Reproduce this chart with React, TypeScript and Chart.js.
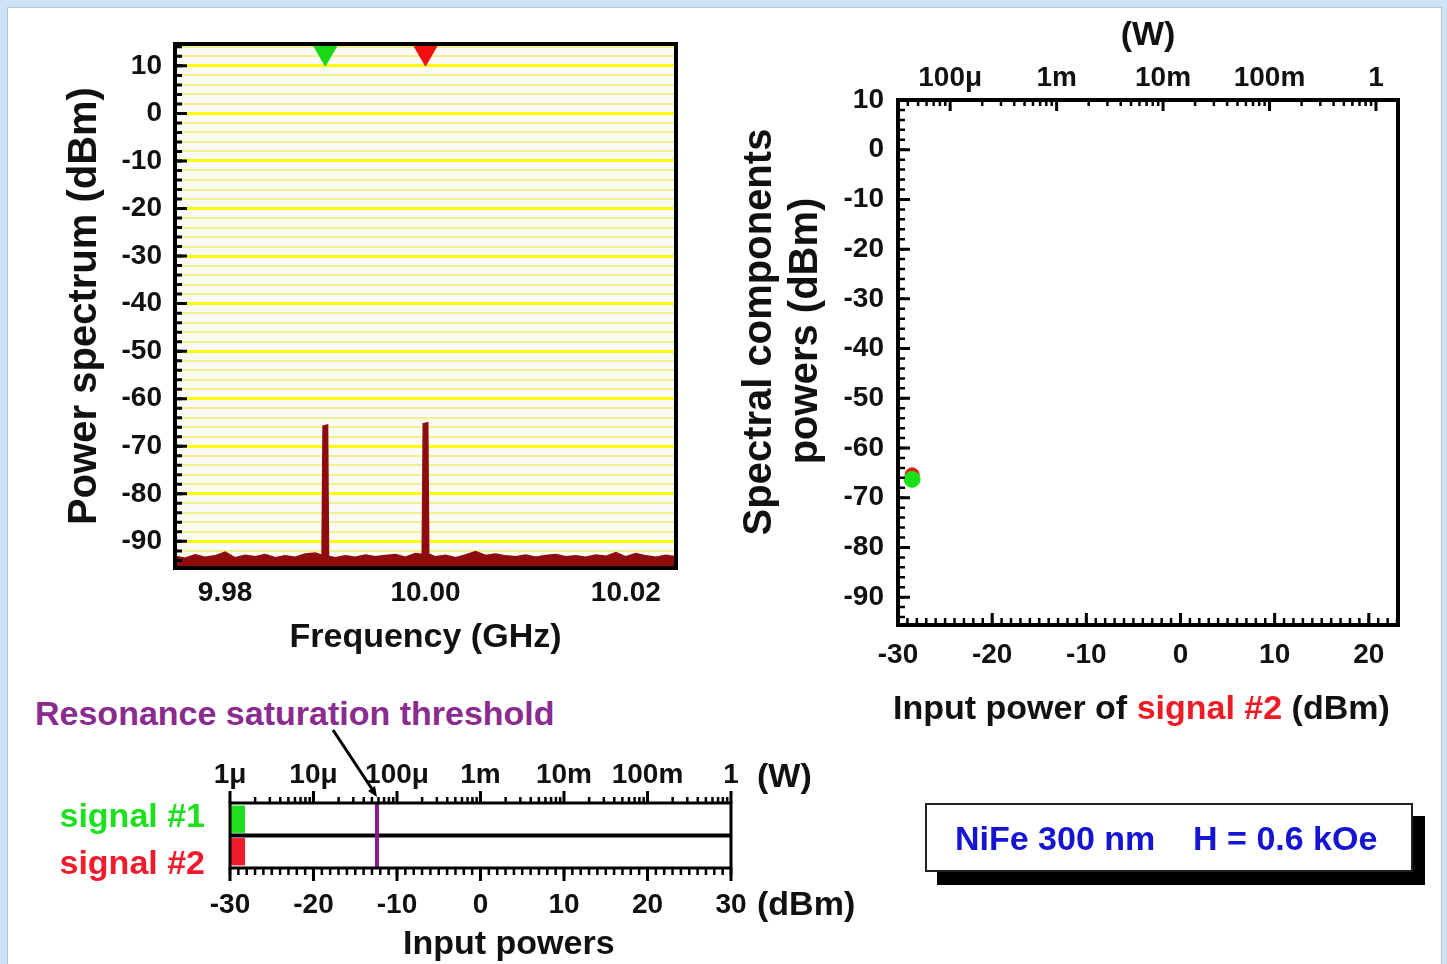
import React, { useEffect, useRef } from 'react';
import { Chart, registerables } from 'chart.js';

Chart.register(...registerables);

const FONT = "'Liberation Sans', Arial, Helvetica, sans-serif";

// ---------- Power spectrum (top-left) ----------
const spectrumFreqGHz = [
  9.975, 9.976, 9.977, 9.978, 9.979, 9.98, 9.981, 9.982, 9.983, 9.984, 9.985, 9.986, 9.987, 9.988, 9.989,
  9.9897, 9.9898, 9.9902, 9.9903,
  9.991, 9.992, 9.993, 9.994, 9.995, 9.996, 9.997, 9.998, 9.999,
  9.9997, 9.9998, 10.0002, 10.0003,
  10.001, 10.002, 10.003, 10.004, 10.005, 10.006, 10.007, 10.008, 10.009, 10.01, 10.011, 10.012, 10.013,
  10.014, 10.015, 10.016, 10.017, 10.018, 10.019, 10.02, 10.021, 10.022, 10.023, 10.024, 10.025,
];
const spectrumLevelDbm = [
  -93.2, -93.6, -92.9, -93.4, -93.1, -92.3, -93.5, -93.0, -93.3, -92.8, -93.5, -93.1, -93.4, -92.7, -92.5,
  -93.0, -65.8, -65.6, -93.2,
  -93.5, -93.1, -93.4, -92.9, -93.3, -93.0, -92.8, -93.4, -92.6,
  -92.8, -65.3, -65.1, -92.7,
  -93.3, -93.0, -93.5, -92.9, -92.2, -93.0, -92.7, -93.1, -93.3, -92.9, -93.4, -93.0, -92.8,
  -93.3, -93.1, -93.4, -92.9, -93.2, -92.4, -93.3, -92.6, -93.1, -93.4, -93.0, -93.3,
];
const markerFreqGHz = [9.99, 10.0];
const markerLevelDbm = [12.7, 12.7];
const markerColors = ['#18d818', '#f01010'];
const freqTickValues = [9.98, 10.0, 10.02];
const spectrumTickDbm = [10, 0, -10, -20, -30, -40, -50, -60, -70, -80, -90];

// ---------- Spectral components powers (top-right) ----------
const signal2InputDbm = [-28.5];
const component1PowerDbm = [-66.3];
const component2PowerDbm = [-65.4];
const inputPowerTickDbm = [-30, -20, -10, 0, 10, 20];
const componentTickDbm = [10, 0, -10, -20, -30, -40, -50, -60, -70, -80, -90];
const wattTickValues = [1e-4, 1e-3, 1e-2, 1e-1, 1];
const wattTickLabels = ['100μ', '1m', '10m', '100m', '1'];
const componentTitleLines = ['Spectral components', 'powers (dBm)'];

// ---------- Input powers (bottom-left) ----------
const signalNames = ['signal #1', 'signal #2'];
const signalColors = ['#1ee01e', '#f01c2c'];
const signalStartDbm = [-30, -30];
const signalPowerDbm = [-28.2, -28.2];
const saturationThresholdDbm = -12.4;
const inputTickDbm = [-30, -20, -10, 0, 10, 20, 30];
const inputWattTickValues = [1e-6, 1e-5, 1e-4, 1e-3, 1e-2, 1e-1, 1];
const inputWattTickLabels = ['1μ', '10μ', '100μ', '1m', '10m', '100m', '1'];

const tickFont = { family: FONT, size: 28, weight: 'bold' as const };
const titleFont = { family: FONT, size: 34, weight: 'bold' as const };
const vTitleFont = { family: FONT, size: 40, weight: 'bold' as const, lineHeight: 1.15 };

function range(start: number, end: number, step: number) {
  const out: number[] = [];
  for (let v = start; v <= end + 1e-9; v += step) out.push(Math.round(v * 1e6) / 1e6);
  return out;
}
function logValues(min: number, max: number, mults: number[]) {
  const out: number[] = [];
  for (let e = Math.floor(Math.log10(min)) - 1; e <= Math.ceil(Math.log10(max)); e++) {
    for (const m of mults) {
      const v = m * Math.pow(10, e);
      if (v >= min * 0.9999 && v <= max * 1.0001) out.push(v);
    }
  }
  return out;
}
function labelFor(values: number[], labels: string[]) {
  return (v: any) => {
    const n = Number(v);
    const i = values.findIndex((t) => Math.abs(t - n) <= Math.abs(t) * 1e-6 + 1e-9);
    return i >= 0 ? labels[i] : '';
  };
}
function fixSize(dim: 'width' | 'height', size: number) {
  return (s: any) => {
    s[dim] = size;
    s.paddingTop = 0;
    s.paddingBottom = 0;
    s.paddingLeft = 0;
    s.paddingRight = 0;
  };
}
function drawTickMarks(ctx: CanvasRenderingContext2D, chart: any, scale: any, values: number[], len: number,
  side: 'left' | 'top' | 'bottom', inward: boolean, lw: number) {
  const a = chart.chartArea;
  ctx.beginPath();
  for (const v of values) {
    const p = scale.getPixelForValue(v);
    if (side === 'left') {
      if (p < a.top - 1 || p > a.bottom + 1) continue;
      ctx.moveTo(a.left, p);
      ctx.lineTo(a.left + (inward ? len : -len), p);
    } else if (side === 'top') {
      if (p < a.left - 1 || p > a.right + 1) continue;
      ctx.moveTo(p, a.top);
      ctx.lineTo(p, a.top + (inward ? len : -len));
    } else {
      if (p < a.left - 1 || p > a.right + 1) continue;
      ctx.moveTo(p, a.bottom);
      ctx.lineTo(p, a.bottom + (inward ? -len : len));
    }
  }
  ctx.lineWidth = lw;
  ctx.strokeStyle = '#000';
  ctx.stroke();
}
function frame(ctx: CanvasRenderingContext2D, chart: any, lw: number) {
  const a = chart.chartArea;
  ctx.lineWidth = lw;
  ctx.strokeStyle = '#000';
  ctx.strokeRect(a.left, a.top, a.right - a.left, a.bottom - a.top);
}

const hiddenGrid = { display: false, drawTicks: false };
const noBorder = { display: false };

export default function App() {
  const c1 = useRef<HTMLCanvasElement>(null);
  const c2 = useRef<HTMLCanvasElement>(null);
  const c3 = useRef<HTMLCanvasElement>(null);

  useEffect(() => {
    // ---- Chart 1: spectrum ----
    const spectrumPlugin = {
      id: 'spectrumDecor',
      beforeDraw(chart: any) {
        const { ctx, chartArea: a } = chart;
        ctx.save();
        ctx.fillStyle = '#fafaf7';
        ctx.fillRect(a.left, a.top, a.right - a.left, a.bottom - a.top);
        ctx.restore();
      },
      afterDraw(chart: any) {
        const { ctx } = chart;
        const y = chart.scales.y;
        ctx.save();
        frame(ctx, chart, 4);
        drawTickMarks(ctx, chart, y, range(-94, 14, 2), 7, 'left', true, 3);
        drawTickMarks(ctx, chart, y, spectrumTickDbm, 12, 'left', true, 3);
        ctx.restore();
      },
    };
    const ch1 = new Chart(c1.current!, {
      type: 'line',
      data: {
        datasets: [
          {
            type: 'scatter',
            data: markerFreqGHz.map((f, i) => ({ x: f, y: markerLevelDbm[i] })),
            pointStyle: 'triangle',
            rotation: 180,
            radius: 13,
            backgroundColor: markerColors,
            borderColor: markerColors,
            clip: false,
            order: 0,
          } as any,
          {
            data: spectrumFreqGHz.map((f, i) => ({ x: f, y: spectrumLevelDbm[i] })),
            borderColor: '#8e0c0c',
            backgroundColor: '#8e0c0c',
            fill: 'start',
            pointRadius: 0,
            borderWidth: 2,
            tension: 0,
            order: 1,
          } as any,
        ],
      },
      options: {
        responsive: false,
        animation: false,
        devicePixelRatio: 1,
        layout: { padding: { top: 10, right: 14, bottom: 0, left: 0 } },
        plugins: { legend: { display: false }, tooltip: { enabled: false } },
        scales: {
          x: {
            type: 'linear',
            min: 9.975,
            max: 10.025,
            afterBuildTicks: (s: any) => { s.ticks = freqTickValues.map((v) => ({ value: v })); },
            afterFit: fixSize('height', 102),
            ticks: { callback: (v: any) => Number(v).toFixed(2), font: tickFont, color: '#111', padding: 8, autoSkip: false, maxRotation: 0 },
            grid: hiddenGrid,
            border: noBorder,
            title: { display: true, text: 'Frequency (GHz)', font: titleFont, color: '#111', padding: { top: 0, bottom: 12 } },
          },
          y: {
            type: 'linear',
            min: -95.6,
            max: 14.6,
            afterBuildTicks: (s: any) => { s.ticks = range(-94, 14, 2).map((v) => ({ value: v })); },
            afterFit: fixSize('width', 125),
            ticks: { callback: (v: any) => (spectrumTickDbm.includes(Number(v)) ? String(v) : ''), font: tickFont, color: '#111', padding: 13, autoSkip: false },
            grid: {
              drawTicks: false,
              color: (c: any) => (c.tick && Number(c.tick.value) % 10 === 0 ? '#ffff00' : '#f5ee8c'),
              lineWidth: (c: any) => (c.tick && Number(c.tick.value) % 10 === 0 ? 3 : 2),
            },
            border: noBorder,
            title: { display: true, text: 'Power spectrum (dBm)', font: vTitleFont, color: '#111', padding: { top: 12, bottom: 0 } },
          },
        },
      } as any,
      plugins: [spectrumPlugin],
    });

    // ---- Chart 2: spectral components vs input power ----
    const compMin = Math.pow(10, -4.49);
    const compMax = Math.pow(10, 0.207);
    const compPlugin = {
      id: 'compDecor',
      afterDraw(chart: any) {
        const { ctx } = chart;
        ctx.save();
        frame(ctx, chart, 4);
        drawTickMarks(ctx, chart, chart.scales.y, range(-94, 8, 2), 7, 'left', true, 2.5);
        drawTickMarks(ctx, chart, chart.scales.y, componentTickDbm, 12, 'left', true, 3);
        drawTickMarks(ctx, chart, chart.scales.x2, logValues(compMin, compMax, [2, 3, 4, 5, 6, 7, 8, 9]), 6, 'top', true, 2.5);
        drawTickMarks(ctx, chart, chart.scales.x2, logValues(compMin, compMax, [1]), 11, 'top', true, 3);
        drawTickMarks(ctx, chart, chart.scales.x, range(-30, 23, 1), 7, 'bottom', true, 2.5);
        drawTickMarks(ctx, chart, chart.scales.x, inputPowerTickDbm, 12, 'bottom', true, 3);
        ctx.restore();
      },
    };
    const ch2 = new Chart(c2.current!, {
      type: 'scatter',
      data: {
        datasets: [
          {
            data: signal2InputDbm.map((x, i) => ({ x, y: component1PowerDbm[i] })),
            backgroundColor: '#18e018',
            borderColor: '#18e018',
            pointRadius: 8,
            xAxisID: 'x',
            yAxisID: 'y',
            clip: false,
          } as any,
          {
            data: signal2InputDbm.map((x, i) => ({ x, y: component2PowerDbm[i] })),
            backgroundColor: '#f01010',
            borderColor: '#f01010',
            pointRadius: 7,
            xAxisID: 'x',
            yAxisID: 'y',
            clip: false,
          } as any,
        ],
      },
      options: {
        responsive: false,
        animation: false,
        devicePixelRatio: 1,
        layout: { padding: { top: 0, right: 42, bottom: 0, left: 0 } },
        plugins: { legend: { display: false }, tooltip: { enabled: false } },
        scales: {
          x: {
            type: 'linear',
            position: 'bottom',
            min: -30,
            max: 23.1,
            afterBuildTicks: (s: any) => { s.ticks = inputPowerTickDbm.map((v) => ({ value: v })); },
            afterFit: fixSize('height', 115),
            ticks: { font: tickFont, color: '#111', padding: 13, autoSkip: false, maxRotation: 0 },
            grid: hiddenGrid,
            border: noBorder,
          },
          x2: {
            type: 'logarithmic',
            axis: 'x',
            position: 'top',
            min: compMin,
            max: compMax,
            afterBuildTicks: (s: any) => { s.ticks = wattTickValues.map((v) => ({ value: v })); },
            afterFit: fixSize('height', 100),
            ticks: { callback: labelFor(wattTickValues, wattTickLabels), font: tickFont, color: '#111', padding: 5, autoSkip: false, maxRotation: 0 },
            grid: hiddenGrid,
            border: noBorder,
            title: { display: true, text: '(W)', font: titleFont, color: '#111', padding: { top: 15, bottom: 0 } },
          },
          y: {
            type: 'linear',
            min: -95.6,
            max: 10,
            afterBuildTicks: (s: any) => { s.ticks = componentTickDbm.map((v) => ({ value: v })); },
            afterFit: fixSize('width', 178),
            ticks: { font: tickFont, color: '#111', padding: 14, autoSkip: false },
            grid: hiddenGrid,
            border: noBorder,
          },
        },
      } as any,
      plugins: [compPlugin],
    });

    // ---- Chart 3: input powers ----
    const inputPlugin = {
      id: 'inputDecor',
      afterDatasetsDraw(chart: any) {
        const { ctx, chartArea: a } = chart;
        const x = chart.scales.x;
        const y = chart.scales.y;
        ctx.save();
        const sep = (y.getPixelForValue(0) + y.getPixelForValue(1)) / 2;
        ctx.beginPath();
        ctx.moveTo(a.left, sep);
        ctx.lineTo(a.right, sep);
        ctx.lineWidth = 4;
        ctx.strokeStyle = '#000';
        ctx.stroke();
        const tx = x.getPixelForValue(saturationThresholdDbm);
        ctx.beginPath();
        ctx.moveTo(tx, a.top);
        ctx.lineTo(tx, a.bottom);
        ctx.lineWidth = 4;
        ctx.strokeStyle = '#861a86';
        ctx.stroke();
        ctx.restore();
      },
      afterDraw(chart: any) {
        const { ctx } = chart;
        ctx.save();
        frame(ctx, chart, 3);
        drawTickMarks(ctx, chart, chart.scales.x2, logValues(1e-6, 1, [2, 3, 4, 5, 6, 7, 8, 9]), 6, 'top', false, 2.5);
        drawTickMarks(ctx, chart, chart.scales.x2, inputWattTickValues, 12, 'top', false, 3);
        drawTickMarks(ctx, chart, chart.scales.x, range(-30, 30, 1), 7, 'bottom', false, 2.5);
        drawTickMarks(ctx, chart, chart.scales.x, inputTickDbm, 13, 'bottom', false, 3);
        ctx.restore();
      },
    };
    const ch3 = new Chart(c3.current!, {
      type: 'bar',
      data: {
        labels: signalNames,
        datasets: [
          {
            data: signalNames.map((_, i) => [signalStartDbm[i], signalPowerDbm[i]]),
            backgroundColor: signalColors,
            borderWidth: 0,
            barPercentage: 0.84,
            categoryPercentage: 1,
            xAxisID: 'x',
            yAxisID: 'y',
          } as any,
        ],
      },
      options: {
        indexAxis: 'y',
        responsive: false,
        animation: false,
        devicePixelRatio: 1,
        layout: { padding: { top: 0, right: 139, bottom: 0, left: 0 } },
        plugins: { legend: { display: false }, tooltip: { enabled: false } },
        scales: {
          x: {
            type: 'linear',
            position: 'bottom',
            min: -30,
            max: 30,
            afterBuildTicks: (s: any) => { s.ticks = inputTickDbm.map((v) => ({ value: v })); },
            afterFit: fixSize('height', 96),
            ticks: { font: tickFont, color: '#111', padding: 20, autoSkip: false, maxRotation: 0 },
            grid: hiddenGrid,
            border: noBorder,
          },
          x2: {
            type: 'logarithmic',
            axis: 'x',
            position: 'top',
            min: 1e-6,
            max: 1,
            afterBuildTicks: (s: any) => { s.ticks = inputWattTickValues.map((v) => ({ value: v })); },
            afterFit: fixSize('height', 63),
            ticks: { callback: labelFor(inputWattTickValues, inputWattTickLabels), font: tickFont, color: '#111', padding: 11, autoSkip: false, maxRotation: 0 },
            grid: hiddenGrid,
            border: noBorder,
          },
          y: {
            type: 'category',
            afterFit: fixSize('width', 230),
            ticks: { display: false },
            grid: hiddenGrid,
            border: noBorder,
          },
        },
      } as any,
      plugins: [inputPlugin],
    });

    return () => {
      ch1.destroy();
      ch2.destroy();
      ch3.destroy();
    };
  }, []);

  const txt = (extra: React.CSSProperties): React.CSSProperties => ({
    position: 'absolute',
    fontFamily: FONT,
    fontWeight: 'bold',
    fontSize: 34,
    lineHeight: '34px',
    whiteSpace: 'pre',
    color: '#111',
    ...extra,
  });

  const vText = (cx: number, cy: number, text: string) => (
    <div style={{ position: 'absolute', left: cx, top: cy, width: 0, height: 0 }}>
      <div
        style={txt({
          left: 0,
          top: 0,
          fontSize: 40,
          lineHeight: '40px',
          transform: 'translate(-50%, -50%) rotate(-90deg)',
        })}
      >
        {text}
      </div>
    </div>
  );

  return (
    <div style={{ position: 'fixed', left: 0, top: 0, width: 1447, height: 964, background: '#cfe3f6', overflow: 'hidden' }}>
      <div style={{ position: 'absolute', left: 7, top: 7, width: 1433, height: 970, background: '#ffffff', border: '1px solid #b7c3cf' }} />
      <canvas ref={c1} width={640} height={640} style={{ position: 'absolute', left: 50, top: 30, width: 640, height: 640 }} />
      <canvas ref={c2} width={720} height={740} style={{ position: 'absolute', left: 720, top: 0, width: 720, height: 740 }} />
      <canvas ref={c3} width={870} height={224} style={{ position: 'absolute', left: 0, top: 740, width: 870, height: 224 }} />

      {vText(757, 332, componentTitleLines[0])}
      {vText(803, 331, componentTitleLines[1])}

      <div style={txt({ left: 893, top: 690 })}>
        Input power of <span style={{ color: '#ee1c24' }}>signal #2</span> (dBm)
      </div>
      <div style={txt({ left: 35, top: 696, color: '#8b2a8f' })}>Resonance saturation threshold</div>
      <div style={txt({ right: 1447 - 205, top: 798, color: signalColors[0] })}>{signalNames[0]}</div>
      <div style={txt({ right: 1447 - 205, top: 845, color: signalColors[1] })}>{signalNames[1]}</div>
      <div style={txt({ left: 757, top: 758 })}>(W)</div>
      <div style={txt({ left: 757, top: 886 })}>(dBm)</div>
      <div style={txt({ left: 403, top: 925 })}>Input powers</div>

      <svg style={{ position: 'absolute', left: 0, top: 0 }} width={1447} height={964}>
        <line x1={333} y1={730} x2={372} y2={789} stroke="#000" strokeWidth={3} />
        <polygon points="377,797 368,791 375,786" fill="#000" />
      </svg>

      <div
        style={{
          position: 'absolute',
          left: 925,
          top: 803,
          width: 484,
          height: 65,
          background: '#fff',
          border: '2px solid #222',
          boxShadow: '12px 13px 0 #000',
        }}
      >
        <div style={txt({ left: 28, top: 16, color: '#1414d2' })}>{'NiFe 300 nm    H = 0.6 kOe'}</div>
      </div>
    </div>
  );
}
